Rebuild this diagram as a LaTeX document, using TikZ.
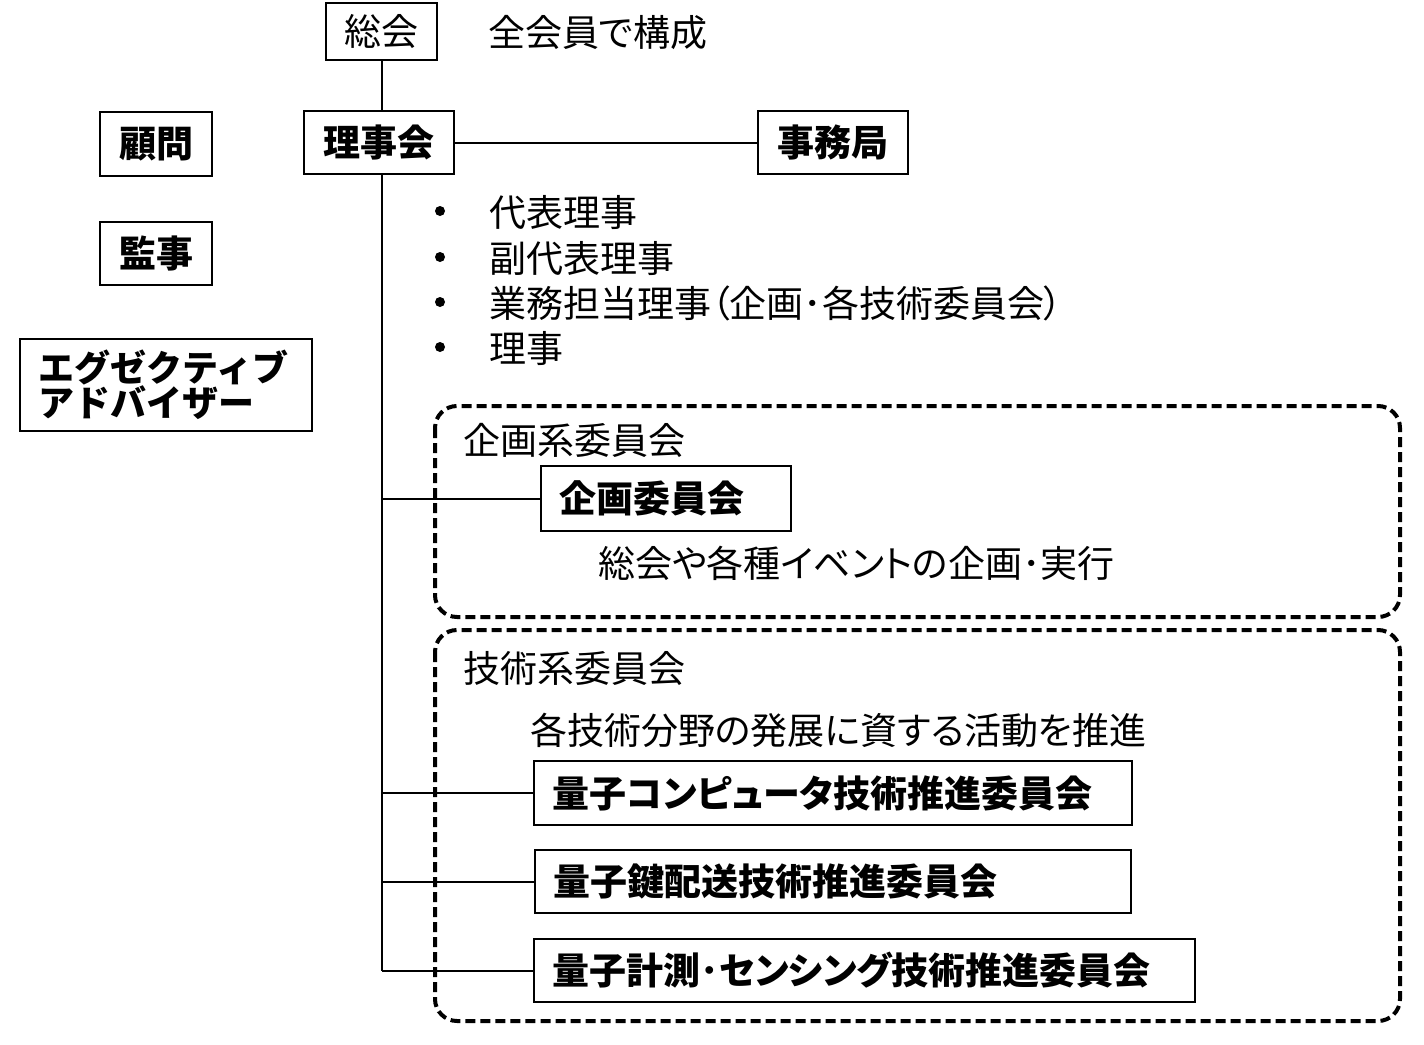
\documentclass[tikz,border=0pt]{standalone}
\usepackage{fontspec}
\setmainfont{Noto Sans CJK JP}[RawFeature=+palt]
\newfontfamily\jpwide{Noto Sans CJK JP}
\begin{document}
\begin{tikzpicture}
[x=1pt,y=-1pt,
  boxdecorate/.style={shape=rectangle,draw,line width=1.6pt,inner sep=0pt,font=\fontsize{37}{42}\selectfont\bfseries},%
  leftdecorate/.style={boxdecorate,anchor=west,align=left,inner xsep=19pt},%
  textdecorate/.style={anchor=west,inner sep=0pt,font=\fontsize{37}{42}\selectfont},%
  bulletdecorate/.style={shape=circle,fill,inner sep=0pt,minimum size=10pt},%
  groupdecorate/.style={draw,line width=4pt,dash pattern=on 10pt off 5pt,rounded corners=22pt},%
  linedecorate/.style={-,line width=2pt}]
\useasboundingbox (0,0) rectangle (1424,1044);
% groups
\draw [groupdecorate] (435,406) rectangle (1400,617);
\draw [groupdecorate] (435,630) rectangle (1400,1021);
% nodes or boxes
\node (sokai) at (381.5,31.5) [boxdecorate,minimum width=111pt,minimum height=57pt,font=\fontsize{37}{42}\selectfont] {総会};
\node (sokaitxt) at (488,33) [textdecorate] {全会員で構成};
\node (rijikai) at (379,142.5) [boxdecorate,minimum width=150pt,minimum height=63pt] {理事会};
\node (jimu) at (833,142.5) [boxdecorate,minimum width=150pt,minimum height=63pt] {事務局};
\node (komon) at (156,144) [boxdecorate,minimum width=112pt,minimum height=64pt] {顧問};
\node (kanji) at (156,253.5) [boxdecorate,minimum width=112pt,minimum height=63pt] {監事};
\node (advisor) at (19,385) [leftdecorate,text width=254pt,inner xsep=19pt,minimum height=92pt,font=\fontsize{36}{35}\jpwide\bfseries] {エグゼクティブ\\アドバイザー};
% members
\node (b1) at (440,211) [bulletdecorate] {};
\node (b2) at (440,257) [bulletdecorate] {};
\node (b3) at (440,302) [bulletdecorate] {};
\node (b4) at (440,347) [bulletdecorate] {};
\node (m1) at (489,212) [textdecorate] {代表理事};
\node (m2) at (489,258) [textdecorate] {副代表理事};
\node (m3) at (489,303) [textdecorate] {業務担当理事（企画･各技術委員会）};
\node (m4) at (489,348) [textdecorate] {理事};
% committees
\node (kikakukei) at (463,440) [textdecorate] {企画系委員会};
\node (kikaku) at (540,498.5) [leftdecorate,text width=212pt,minimum height=65pt] {企画委員会};
\node (kikakutxt) at (598,563) [textdecorate] {総会や各種イベントの企画･実行};
\node (gijutsukei) at (463,668) [textdecorate] {技術系委員会};
\node (gijutsutxt) at (530,730) [textdecorate] {各技術分野の発展に資する活動を推進};
\node (qc) at (533,793) [leftdecorate,text width=560pt,minimum height=64pt] {量子コンピュータ技術推進委員会};
\node (qkd) at (534,881.5) [leftdecorate,text width=558pt,minimum height=63pt] {量子鍵配送技術推進委員会};
\node (qs) at (533,970.5) [leftdecorate,text width=623pt,minimum height=63pt] {量子計測･センシング技術推進委員会};
% edges or lines
\path
(sokai.south) edge[linedecorate] (sokai.south |- rijikai.north)
(sokai.south |- rijikai.south) edge[linedecorate] (sokai.south |- qs.west)
(rijikai) edge[linedecorate] (jimu)
(sokai.south |- kikaku.west) edge[linedecorate] (kikaku.west)
(sokai.south |- qc.west) edge[linedecorate] (qc.west)
(sokai.south |- qkd.west) edge[linedecorate] (qkd.west)
(sokai.south |- qs.west) edge[linedecorate] (qs.west);
\end{tikzpicture}
\end{document}
